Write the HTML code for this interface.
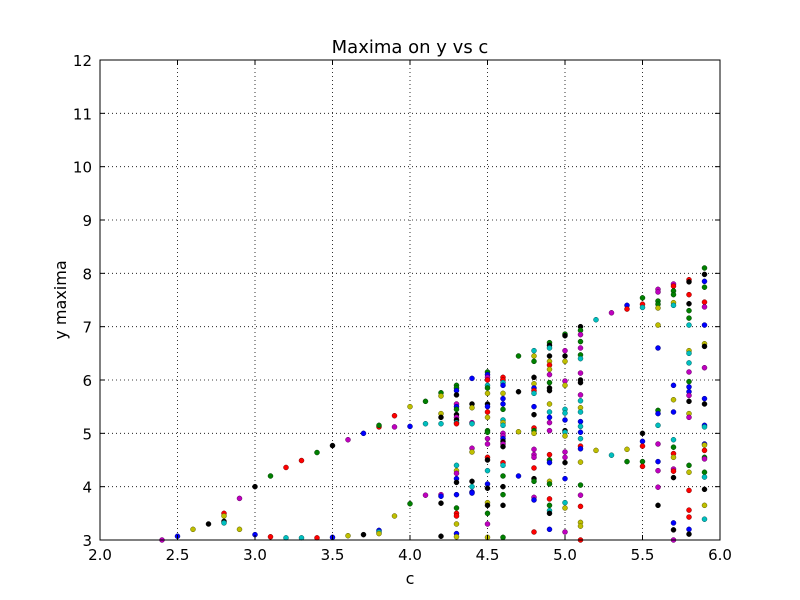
<!DOCTYPE html>
<html><head><meta charset="utf-8"><style>
html,body{margin:0;padding:0;background:#fff;}
svg{display:block;font-family:"DejaVu Sans","Liberation Sans",sans-serif;}
</style></head><body>
<svg id="chart" width="800" height="600" viewBox="0 0 800 600">
<rect x="0" y="0" width="800" height="600" fill="#fff"/>
<text x="410" y="53" font-size="18" text-anchor="middle">Maxima on y vs c</text>
<g id="grid"></g>
<g id="points"></g>
<rect x="100" y="60" width="620" height="480" fill="none" stroke="#000" stroke-width="1"/>
<g id="ticks"></g>
<text x="410" y="584" font-size="16" text-anchor="middle">c</text>
<text x="66" y="300" font-size="16" text-anchor="middle" transform="rotate(-90 66 300)">y maxima</text>
</svg>
<script>
const xTicks = [2.0,2.5,3.0,3.5,4.0,4.5,5.0,5.5,6.0];
const xTickLabels = ["2.0","2.5","3.0","3.5","4.0","4.5","5.0","5.5","6.0"];
const yTicks = [3,4,5,6,7,8,9,10,11,12];
const yTickLabels = ["3","4","5","6","7","8","9","10","11","12"];
const columnC = [2.4,2.5,2.6,2.7,2.8,2.9,3.0,3.1,3.2,3.3,3.4,3.5,3.6,3.7,3.8,3.9,4.0,4.1,4.2,4.3,4.4,4.5,4.6,4.7,4.8,4.9,5.0,5.1,5.2,5.3,5.4,5.5,5.6,5.7,5.8,5.9];
const columnY = [
[3.0],[3.07],[3.2],[3.3],[3.5,3.45,3.35,3.32],[3.78,3.2],[4.0,3.1],[4.2,3.06],[4.36,3.04],[4.49,3.04],[4.64,3.04],[4.77,3.05],[4.88,3.08],[5.0,3.1],
[5.12,5.15,3.18,3.15,3.12],[5.12,5.33,3.45],[5.5,5.13,3.68],[5.6,5.18,3.84],
[5.76,5.7,5.37,5.3,5.18,3.85,3.82,3.69,3.07],
[5.9,5.85,5.8,5.72,5.55,5.5,5.45,5.35,5.3,5.25,5.2,5.18,4.4,4.3,4.25,4.15,4.08,3.85,3.6,3.5,3.45,3.3,3.12,3.06],
[6.03,5.55,5.48,5.2,5.18,4.72,4.65,4.1,4.0,3.9,3.88],
[6.15,6.1,6.05,6.0,5.9,5.85,5.75,5.55,5.5,5.4,5.3,5.05,5.02,4.9,4.8,4.55,4.5,4.3,4.05,3.97,3.7,3.65,3.5,3.3,3.05],
[6.05,6.0,5.95,5.9,5.75,5.65,5.55,5.45,5.25,5.2,5.15,5.0,4.95,4.9,4.85,4.8,4.75,4.45,4.4,4.2,4.0,3.85,3.65,3.05],
[6.45,5.78,5.03,4.2],
[6.55,6.45,6.35,6.05,5.93,5.85,5.8,5.75,5.5,5.35,5.1,5.05,5.0,4.7,4.6,4.55,4.35,4.15,4.1,3.8,3.75,3.15],
[6.7,6.65,6.6,6.45,6.35,6.28,6.2,6.1,5.95,5.85,5.8,5.55,5.4,5.3,5.2,5.05,4.6,4.5,4.45,4.1,4.05,3.77,3.65,3.55,3.5,3.2],
[6.86,6.83,6.55,6.45,6.35,5.98,5.9,5.45,5.38,5.25,5.05,5.02,4.95,4.65,4.55,4.45,4.15,3.7,3.6,3.15],
[7.0,6.93,6.85,6.72,6.6,6.47,6.4,6.13,6.0,5.95,5.72,5.61,5.48,5.4,5.22,5.13,5.02,4.9,4.76,4.71,4.46,4.03,3.84,3.63,3.33,3.26,3.0],
[7.13,4.68],[7.26,4.59],[7.4,7.33,4.7,4.47],
[7.54,7.42,7.36,5.0,4.85,4.76,4.47,4.38],
[7.7,7.65,7.48,7.42,7.35,7.03,6.6,5.43,5.37,5.15,4.8,4.47,4.3,3.99,3.65],
[7.8,7.76,7.67,7.6,7.45,7.4,5.9,5.63,5.4,4.88,4.74,4.62,4.55,4.33,4.29,4.17,3.32,3.19,3.0],
[7.88,7.84,7.6,7.43,7.3,7.16,7.03,6.55,6.5,6.32,6.15,5.97,5.87,5.78,5.71,5.6,5.37,5.3,4.4,4.27,3.93,3.56,3.43,3.2,3.11],
[8.1,7.98,7.85,7.74,7.46,7.37,7.03,6.68,6.63,6.23,5.65,5.55,5.15,5.12,4.8,4.78,4.68,4.55,4.52,4.27,4.18,3.95,3.65,3.39]
];
const columnColors = [
"m","b","y","k","rykc","my","kb","gr","rc","rc","gr","kb","my","bk",
"rgbcy","mry","ybg","gcm",
"gyykcmbkk",
"ggbkmbgkmkcrcymbkbgrrybj",
"bkymcmykcbb",
"gbmrcgykbryggmmrkcbkykgmy",
"rrcbybbgcycmmbkmkrcgkgkg",
"gkyb",
"cygkybrcbkrgymmmrkgmbr",
"gkckyrymgkkycbmmrgbygrgckb",
"gkmkymyccbkcymmkbcym",
"kgmgmgcmkkmcycbcbcrbygmryyr",
"cy","mc","bryg",
"grckbrgr",
"mmggyybgbcmbmmk",
"mrggycbybcgrymrkbkm",
"rkrkggcyccmgbbmkymgyrrrbk",
"gkbgrmbykmbkbcbyrgmgckyc"
];
const colorMap = {b:"#0000ff",g:"#008000",r:"#ff0000",c:"#00bfbf",m:"#bf00bf",y:"#bfbf00",k:"#000000",j:"#bfbf00"};
const edgeMap = {b:"#00007a",g:"#003d00",r:"#7a0000",c:"#005c5c",m:"#5c005c",y:"#5c5c00",k:"#000000",j:"#5c5c00"};

const X0=100,X1=720,Y0=540,Y1=60;
function sx(c){return X0+(c-2)/(6-2)*(X1-X0);}
function sy(v){return Y0-(v-3)/(12-3)*(Y0-Y1);}
const NS="http://www.w3.org/2000/svg";
const grid=document.getElementById('grid'),ticks=document.getElementById('ticks'),pts=document.getElementById('points');

xTicks.forEach((t,i)=>{
  const x=sx(t);
  const gl=document.createElementNS(NS,'line');
  
  
  gl.setAttribute('x1',x);gl.setAttribute('x2',x);gl.setAttribute('y1',Y1);gl.setAttribute('y2',Y0);
  gl.setAttribute('stroke','#000');gl.setAttribute('stroke-width','0.8');gl.setAttribute('stroke-dasharray','1,3');
  grid.appendChild(gl);
  [[Y0,Y0-5],[Y1,Y1+5]].forEach(p=>{
    const tk=document.createElementNS(NS,'line');
    
    
    tk.setAttribute('x1',x);tk.setAttribute('x2',x);tk.setAttribute('y1',p[0]);tk.setAttribute('y2',p[1]);
    tk.setAttribute('stroke','#000');ticks.appendChild(tk);
  });
  const tx=document.createElementNS(NS,'text');
  
  
  tx.setAttribute('x',x);tx.setAttribute('y',Y0+20);tx.setAttribute('font-size','15');tx.setAttribute('text-anchor','middle');
  tx.textContent=xTickLabels[i];ticks.appendChild(tx);
});
yTicks.forEach((t,i)=>{
  const y=sy(t);
  const gl=document.createElementNS(NS,'line');
  
  
  gl.setAttribute('x1',X0);gl.setAttribute('x2',X1);gl.setAttribute('y1',y);gl.setAttribute('y2',y);
  gl.setAttribute('stroke','#000');gl.setAttribute('stroke-width','0.8');gl.setAttribute('stroke-dasharray','1,3');
  grid.appendChild(gl);
  [[X0,X0+5],[X1,X1-5]].forEach(p=>{
    const tk=document.createElementNS(NS,'line');
    
    
    tk.setAttribute('x1',p[0]);tk.setAttribute('x2',p[1]);tk.setAttribute('y1',y);tk.setAttribute('y2',y);
    tk.setAttribute('stroke','#000');ticks.appendChild(tk);
  });
  const tx=document.createElementNS(NS,'text');
  
  
  tx.setAttribute('x',X0-8);tx.setAttribute('y',y+6);tx.setAttribute('font-size','15');tx.setAttribute('text-anchor','end');
  tx.textContent=yTickLabels[i];ticks.appendChild(tx);
});
columnC.forEach((c,i)=>{
  columnY[i].forEach((v,j)=>{
    const k=columnColors[i][j]||"k";
    const pt=document.createElementNS(NS,'circle');
    
    
    pt.setAttribute('cx',sx(c));pt.setAttribute('cy',sy(v));pt.setAttribute('r','2.5');
    pt.setAttribute('fill',colorMap[k]);pt.setAttribute('stroke',edgeMap[k]);pt.setAttribute('stroke-width','0.5');
    pts.appendChild(pt);
  });
});
</script>
</body></html>
